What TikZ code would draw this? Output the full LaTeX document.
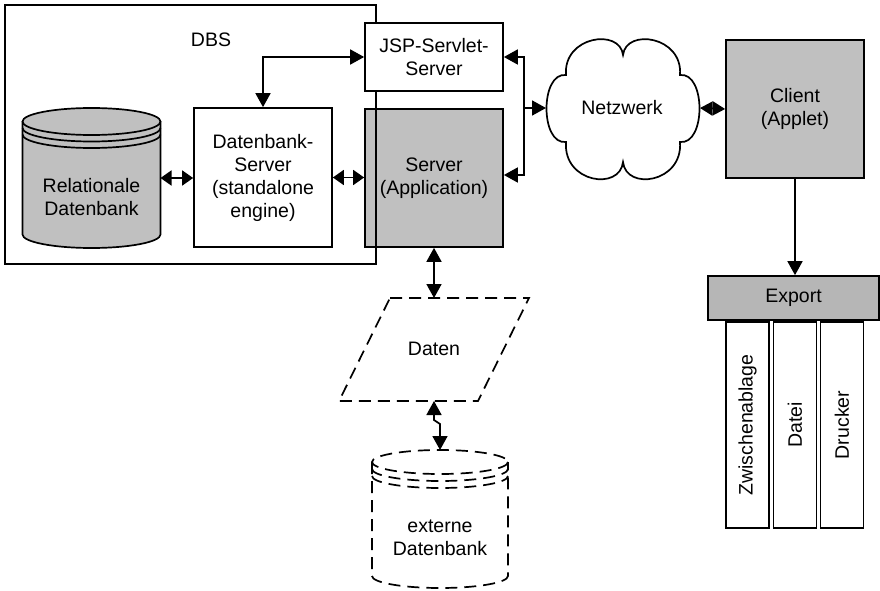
\documentclass[tikz,border=0pt]{standalone}
\usepackage{fontspec}
\setmainfont{Liberation Sans}
\usetikzlibrary{arrows.meta,calc}
\definecolor{boxgray}{RGB}{192,192,192}
\definecolor{exportgray}{RGB}{182,182,182}
\begin{document}
\begin{tikzpicture}[x=1pt,y=-1pt,
  every node/.style={font=\fontsize{19.5}{23}\selectfont, align=center, inner sep=0pt},
  lw/.style={line width=1.7pt},
  box/.style={draw, lw, fill=white, minimum width=138pt, minimum height=138pt},
  graybox/.style={box, fill=boxgray},
  tipA/.tip={Triangle[length=14pt,width=15pt]},
  tipS/.tip={Triangle[length=11pt,width=15pt]},
  tipB/.tip={Triangle[length=12.5pt,width=14pt]},
  conn/.style={lw, tipA-tipA},
  shortconn/.style={lw, tipS-tipS},
  oneway/.style={lw, -tipA},
  dashline/.style={lw, dash pattern=on 12pt off 7pt},
  subbox/.style={draw, lw, fill=white, rotate=90, minimum width=206pt, minimum height=43pt}
]
\useasboundingbox (0,0) rectangle (880,591);

% Server (Application)
\node[graybox] (server) at (434,178) {Server\\(Application)};
% DBS frame
\node[draw, lw, minimum width=371pt, minimum height=259pt] (dbsframe) at (190.5,134.5) {};
\node (dbslabel) at (211,40) {DBS};
% JSP server
\node[box, minimum height=68pt] (jsp) at (434,57) {JSP-Servlet-\\Server};
% Datenbank-Server
\node[box, minimum height=139pt] (dbserver) at (263,177.5) {Datenbank-\\Server\\(standalone\\engine)};

% Relationale Datenbank cylinder
\fill[boxgray] (22.5,121.5) -- (22.5,234.5)
  arc[start angle=180,end angle=0,x radius=69,y radius=13.5]
  -- (160.5,121.5) arc[start angle=0,end angle=-180,x radius=69,y radius=13.5] -- cycle;
\draw[lw] (22.5,121.5) -- (22.5,234.5)
  arc[start angle=180,end angle=0,x radius=69,y radius=13.5] -- (160.5,121.5);
\draw[lw] (91.5,121.5) ellipse[x radius=69,y radius=13.5];
\draw[lw] (22.5,128) arc[start angle=180,end angle=0,x radius=69,y radius=13.5];
\draw[lw] (22.5,134.5) arc[start angle=180,end angle=0,x radius=69,y radius=13.5];
\node (reldb) at (91.5,197) {Relationale\\Datenbank};
\coordinate (reldbE) at (160.5,178);

% Cloud
\draw[lw, fill=white] (566,75) .. controls (563,36) and (620,28) .. (623,55)
  .. controls (626,28) and (683,36) .. (680,75)
  .. controls (706,72) and (706,145) .. (680,142)
  .. controls (683,183) and (626,191) .. (623,162)
  .. controls (620,191) and (563,183) .. (566,142)
  .. controls (540,145) and (540,72) .. (566,75) -- cycle;
\node (netz) at (622,108) {Netzwerk};
\coordinate (cloudW) at (546,108);
\coordinate (cloudE) at (700,108);

% Client
\node[graybox] (client) at (795,109) {Client\\(Applet)};

% Export
\node[draw, lw, fill=exportgray, minimum width=171pt, minimum height=44pt] (export) at (793.5,298) {Export};
\node[subbox] (zw) at (747.5,425) {Zwischenablage};
\node[subbox] (datei) at (795,425) {Datei};
\node[subbox] (drucker) at (842,425) {Drucker};

% Daten parallelogram
\draw[dashline] (390,298) -- (529,298) -- (478,401) -- (339,401) -- cycle;
\node (daten) at (434,349) {Daten};
\coordinate (dtop) at (434,298);
\coordinate (dbot) at (434,401);

% externe Datenbank cylinder
\draw[dashline] (440,462) ellipse[x radius=68,y radius=12];
\draw[dashline] (372,469) arc[start angle=180,end angle=0,x radius=68,y radius=12];
\draw[dashline] (372,476) arc[start angle=180,end angle=0,x radius=68,y radius=12];
\draw[dashline] (372,462) -- (372,576) arc[start angle=180,end angle=0,x radius=68,y radius=12] -- (508,462);
\node (extdb) at (440,538) {externe\\Datenbank};
\coordinate (exttop) at (440,450);

% Connectors
\draw[shortconn] (reldbE) -- (reldbE -| dbserver.west);
\draw[shortconn] (dbserver.east) -- (dbserver.east -| server.west);
\draw[conn] (dbserver.north) |- (jsp.west);
\coordinate (bus) at (524,108);
\draw[oneway] (bus) |- (jsp.east);
\draw[oneway] (bus) |- ([yshift=3pt]server.east);
\draw[oneway] (bus) -- (cloudW);
\draw[lw, tipB-tipB] (cloudE) -- (client.west);
\draw[oneway] (client.south) -- (client.south |- export.north);
\draw[conn] (server.south) -- (dtop);
\draw[conn] (dbot) -- ++(0,19) -- ++(6,4) -- (exttop);
\end{tikzpicture}
\end{document}
